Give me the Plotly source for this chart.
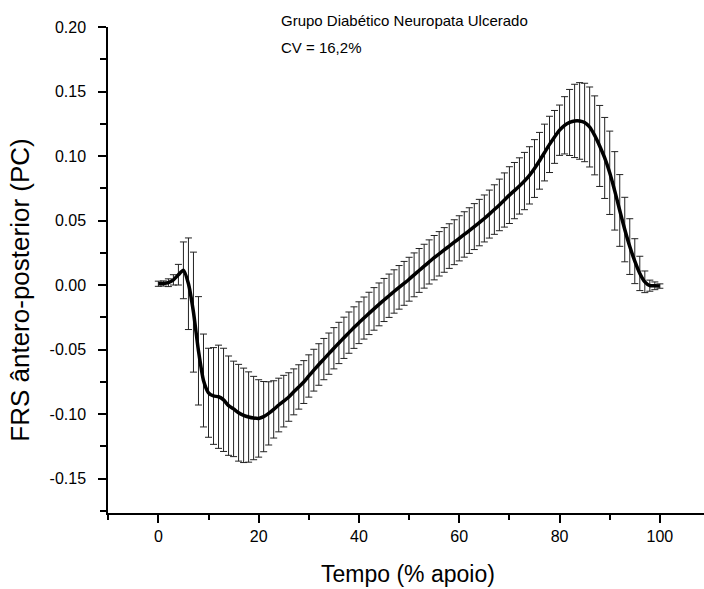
import plotly.graph_objects as go

# Stance time (% of support phase)
tempo = list(range(0, 101))

# Mean anterior-posterior GRF (normalised by body weight)
frs_media = [
    0.0010, 0.0012, 0.0018, 0.0040, 0.0080, 0.0114, 0.0010, -0.0210, -0.0510, -0.0740,
    -0.0835, -0.0860, -0.0866, -0.0890, -0.0935, -0.0960, -0.0990, -0.1010, -0.1023, -0.1031,
    -0.1034, -0.1020, -0.0995, -0.0964, -0.0930, -0.0900, -0.0868, -0.0828, -0.0790, -0.0752,
    -0.0705, -0.0660, -0.0616, -0.0574, -0.0532, -0.0490, -0.0449, -0.0409, -0.0369, -0.0330,
    -0.0292, -0.0256, -0.0220, -0.0185, -0.0150, -0.0116, -0.0083, -0.0050, -0.0018, 0.0013,
    0.0045, 0.0079, 0.0113, 0.0146, 0.0179, 0.0212, 0.0242, 0.0272, 0.0302, 0.0332,
    0.0362, 0.0392, 0.0422, 0.0453, 0.0484, 0.0516, 0.0550, 0.0585, 0.0621, 0.0659,
    0.0697, 0.0732, 0.0768, 0.0806, 0.0850, 0.0903, 0.0963, 0.1027, 0.1090, 0.1148,
    0.1200, 0.1238, 0.1260, 0.1272, 0.1272, 0.1260, 0.1225, 0.1160, 0.1078, 0.0985,
    0.0870, 0.0730, 0.0578, 0.0430, 0.0298, 0.0185, 0.0090, 0.0025, -0.0005, -0.0006,
    -0.0008,
]

# Standard deviation (error bars)
frs_dp = [
    0.0020, 0.0020, 0.0030, 0.0040, 0.0080, 0.0220, 0.0355, 0.0465, 0.0420, 0.0360,
    0.0345, 0.0375, 0.0400, 0.0400, 0.0385, 0.0370, 0.0375, 0.0366, 0.0350, 0.0323,
    0.0300, 0.0272, 0.0245, 0.0222, 0.0208, 0.0200, 0.0188, 0.0178, 0.0172, 0.0166,
    0.0164, 0.0162, 0.0161, 0.0160, 0.0160, 0.0160, 0.0160, 0.0160, 0.0160, 0.0161,
    0.0162, 0.0163, 0.0164, 0.0165, 0.0166, 0.0167, 0.0168, 0.0168, 0.0169, 0.0170,
    0.0170, 0.0170, 0.0170, 0.0170, 0.0171, 0.0172, 0.0172, 0.0173, 0.0173, 0.0174,
    0.0175, 0.0176, 0.0177, 0.0178, 0.0180, 0.0182, 0.0186, 0.0192, 0.0200, 0.0210,
    0.0220, 0.0218, 0.0218, 0.0222, 0.0222, 0.0224, 0.0220, 0.0220, 0.0218, 0.0205,
    0.0195, 0.0222, 0.0256, 0.0284, 0.0297, 0.0304, 0.0310, 0.0306, 0.0314, 0.0314,
    0.0323, 0.0304, 0.0278, 0.0250, 0.0216, 0.0174, 0.0133, 0.0084, 0.0043, 0.0030,
    0.0017,
]

y_ticks = [-0.15, -0.10, -0.05, 0.00, 0.05, 0.10, 0.15, 0.20]
y_tick_labels = ["%.2f" % v for v in y_ticks]
x_ticks = [0, 20, 40, 60, 80, 100]

titulo = "Grupo Diabético Neuropata Ulcerado"
cv_texto = "CV = 16,2%"
x_titulo = "Tempo (% apoio)"
y_titulo = "FRS ântero-posterior (PC)"

FONT = "Arial, Liberation Sans, sans-serif"

fig = go.Figure()

fig.add_trace(go.Scatter(
    x=tempo, y=frs_media,
    mode="markers",
    marker=dict(size=1, color="rgba(0,0,0,0)"),
    error_y=dict(type="data", array=frs_dp, visible=True,
                 color="#222222", thickness=1, width=3.5),
    hoverinfo="skip",
    showlegend=False,
))

fig.add_trace(go.Scatter(
    x=tempo, y=frs_media,
    mode="lines",
    line=dict(color="black", width=3.5, shape="spline", smoothing=0.6),
    showlegend=False,
))

fig.update_layout(
    width=704, height=589,
    margin=dict(l=108, r=0, t=27, b=76),
    paper_bgcolor="white", plot_bgcolor="white",
    font=dict(family=FONT, color="black", size=15),
    xaxis=dict(
        range=[-10.04, 108.8],
        tickvals=x_ticks,
        ticks="outside", ticklen=8, tickwidth=1.5, tickcolor="black",
        minor=dict(dtick=10, tick0=0, ticks="outside", ticklen=5, tickwidth=1.5, tickcolor="black"),
        showline=True, linecolor="black", linewidth=1.5,
        showgrid=False, zeroline=False,
        tickfont=dict(size=16, family=FONT),
    ),
    yaxis=dict(
        range=[-0.1767, 0.2],
        tickvals=y_ticks, ticktext=y_tick_labels,
        ticks="outside", ticklen=8, tickwidth=1.5, tickcolor="black",
        minor=dict(dtick=0.025, tick0=0, ticks="outside", ticklen=6, tickwidth=1.5, tickcolor="black"),
        showline=True, linecolor="black", linewidth=1.5,
        showgrid=False, zeroline=False,
        ticklabelstandoff=9,
        tickfont=dict(size=16, family=FONT),
    ),
    annotations=[
        dict(text=titulo, x=0.287, y=1.0144, xref="paper", yref="paper",
             xanchor="left", yanchor="middle", showarrow=False,
             font=dict(size=15, family=FONT)),
        dict(text=cv_texto, x=0.287, y=0.9588, xref="paper", yref="paper",
             xanchor="left", yanchor="middle", showarrow=False,
             font=dict(size=15, family=FONT)),
        dict(text=x_titulo, x=0.503, y=-0.1245, xref="paper", yref="paper",
             xanchor="center", yanchor="middle", showarrow=False,
             font=dict(size=23, family=FONT)),
        dict(text=y_titulo, x=-0.148, y=0.459, xref="paper", yref="paper",
             xanchor="center", yanchor="middle", showarrow=False, textangle=-90,
             font=dict(size=26, family=FONT)),
    ],
)

fig.write_html("out.html", post_script="document.body.style.margin='0';",
               config={"displayModeBar": False})
